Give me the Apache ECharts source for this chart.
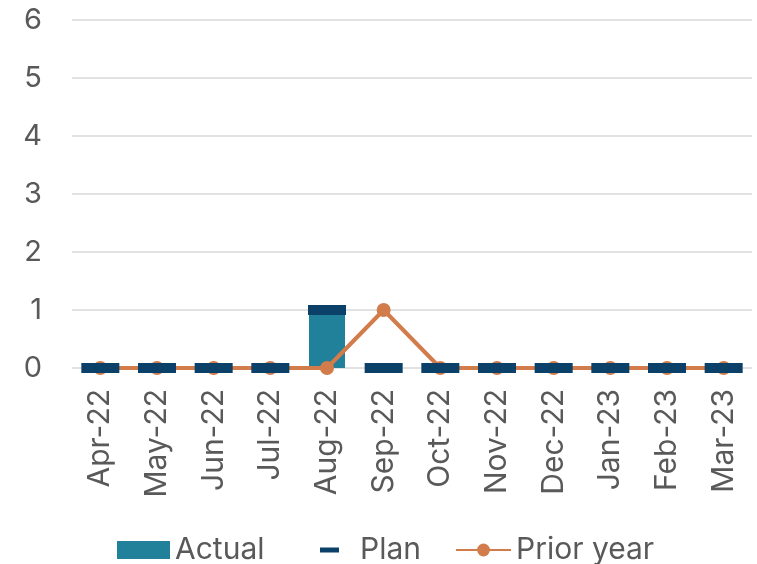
<!DOCTYPE html>
<html>
<head>
<meta charset="utf-8">
<script src="https://cdn.jsdelivr.net/npm/echarts@6/dist/echarts.min.js"></script>
<style>
  html, body { margin: 0; padding: 0; background: #ffffff; }
  #chart { width: 757px; height: 564px; }
</style>
</head>
<body>
<div id="chart"></div>
<script>
// Monthly figures, April 2022 to March 2023
const months = ['Apr-22', 'May-22', 'Jun-22', 'Jul-22', 'Aug-22', 'Sep-22',
                'Oct-22', 'Nov-22', 'Dec-22', 'Jan-23', 'Feb-23', 'Mar-23'];
const actualValues = [0, 0, 0, 0, 1, 0, 0, 0, 0, 0, 0, 0];
const planValues = [0, 0, 0, 0, 1, 0, 0, 0, 0, 0, 0, 0];
const priorYearValues = [0, 0, 0, 0, 0, 1, 0, 0, 0, 0, 0, 0];
const yTicks = [0, 1, 2, 3, 4, 5, 6];

const FONT = 'Inter, "Noto Sans", sans-serif';
const TEXT = '#595959';
const C_ACTUAL = '#21819A';
const C_PLAN = '#0B4068';
const C_PRIOR = '#D27B4B';

const chart = echarts.init(document.getElementById('chart'), null, { renderer: 'canvas' });

const legendText = { color: TEXT, fontSize: 30, fontFamily: FONT };

chart.setOption({
  animation: false,
  backgroundColor: '#ffffff',
  grid: { left: 72, right: 5, top: 20, bottom: 196, containLabel: false },
  xAxis: {
    type: 'category',
    data: months,
    axisLine: { show: false },
    axisTick: { show: false },
    axisLabel: { rotate: 90, margin: 21, color: TEXT, fontSize: 30, fontFamily: FONT, interval: 0 }
  },
  yAxis: {
    type: 'value',
    min: yTicks[0],
    max: yTicks[yTicks.length - 1],
    interval: 1,
    axisLine: { show: false },
    axisTick: { show: false },
    axisLabel: { margin: 30, color: TEXT, fontSize: 29, fontFamily: FONT },
    splitLine: { lineStyle: { color: '#D9D9D9', width: 1.5 } }
  },
  legend: [
    {
      data: ['Actual'], left: 112, top: 530, orient: 'horizontal',
      itemWidth: 53, itemHeight: 18, icon: 'rect', textStyle: legendText
    },
    {
      data: ['Plan'], left: 315, top: 530, orient: 'horizontal',
      itemWidth: 19, itemHeight: 5, icon: 'rect',
      textStyle: Object.assign({ padding: [0, 0, 0, 16] }, legendText)
    },
    {
      data: ['Prior year'], left: 450, top: 530, orient: 'horizontal',
      itemWidth: 55, itemHeight: 16, textStyle: legendText
    }
  ],
  series: [
    {
      name: 'Actual',
      type: 'bar',
      data: actualValues,
      barWidth: 36,
      itemStyle: { color: C_ACTUAL },
      z: 1
    },
    {
      name: 'Prior year',
      type: 'line',
      data: priorYearValues,
      symbol: 'circle',
      symbolSize: 14,
      lineStyle: { color: C_PRIOR, width: 4 },
      itemStyle: { color: C_PRIOR },
      z: 3
    },
    {
      name: 'Plan',
      type: 'scatter',
      data: planValues,
      symbol: 'rect',
      symbolSize: [38, 10],
      itemStyle: { color: C_PLAN, opacity: 1 },
      z: 4
    }
  ]
});
</script>
</body>
</html>
